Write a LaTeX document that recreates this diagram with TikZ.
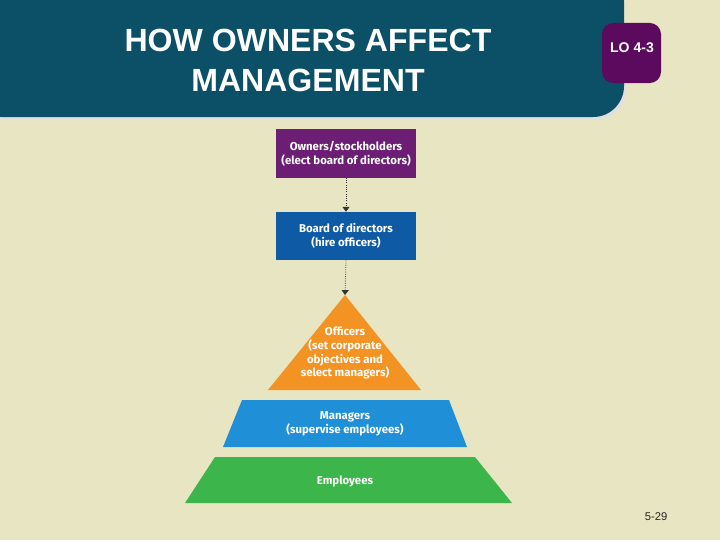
\documentclass[tikz,border=0pt]{standalone}
\usepackage{fontspec}
\setmainfont{Liberation Sans}
\newfontfamily\boxfont{Fira Sans}
\usetikzlibrary{arrows.meta}
\definecolor{pagebg}{HTML}{E8E5C2}
\definecolor{bannerteal}{HTML}{0B5066}
\definecolor{lopurple}{HTML}{5C0A5E}
\definecolor{ownerpurple}{HTML}{6B1E74}
\definecolor{boardblue}{HTML}{0F5AA5}
\definecolor{officerorange}{HTML}{F39324}
\definecolor{managerblue}{HTML}{1F8FD8}
\definecolor{employeegreen}{HTML}{3CB54A}
\tikzset{
  titletext/.style={text=white, font=\fontsize{22.8}{28.5}\selectfont\bfseries, align=center},
  levelbox/.style={minimum width=3.5cm, minimum height=1.2cm, inner sep=0pt},
  leveltext/.style={text=white, font=\boxfont\fontsize{8.1}{9.9}\selectfont\bfseries, align=center},
  tier/.style={draw=none},
  handoff/.style={densely dotted, line width=0.6pt, draw=black!80, -{Triangle[width=5pt,length=3.5pt]}},
}

\begin{document}
\begin{tikzpicture}[x=0.025cm, y=-0.025cm]
\useasboundingbox (0,0) rectangle (720,540);
\fill[pagebg] (0,0) rectangle (720,540);
% title banner
\fill[black!12, rounded corners=22] (-30,2) rectangle (626,120);
\fill[bannerteal, rounded corners=22] (-30,-30) rectangle (624,117);
\node[titletext] (title) at (308,60.5) {HOW OWNERS AFFECT\\MANAGEMENT};
\node[fill=lopurple, rounded corners=8, minimum width=1.475cm, minimum height=1.5cm, inner sep=0pt] (lo) at (631.5,53) {};
\node[text=white, font=\fontsize{10}{11}\selectfont\bfseries] (lotext) at (632,48) {LO 4-3};
% chain of control
\node[levelbox, fill=ownerpurple] (owners) at (346,153.5) {};
\node[leveltext] at (owners) {Owners/stockholders\\(elect board of directors)};
\node[levelbox, fill=boardblue] (board) at (346,236) {};
\node[leveltext] at (board) {Board of directors\\(hire officers)};
% pyramid
\coordinate (apex) at (345,295);
\fill[tier, officerorange] (apex) -- (421,390) -- (268,390) -- cycle;
\fill[tier, managerblue] (242,400) -- (449,400) -- (467,447) -- (223,447) -- cycle;
\fill[tier, employeegreen] (215,457) -- (475,457) -- (512,503) -- (185,503) -- cycle;
\node[leveltext] (officers) at (345,353) {Officers\\(set corporate\\objectives and\\select managers)};
\node[leveltext] (managers) at (345,424) {Managers\\(supervise employees)};
\node[leveltext] (employees) at (345,481) {Employees};
% connectors
\draw[handoff] (owners.south) -- (board.north);
\draw[handoff] (board.south) -- (apex);
\node[text=black!85, font=\fontsize{8}{9}\selectfont] (pageno) at (656,517) {5-29};
\end{tikzpicture}
\end{document}
